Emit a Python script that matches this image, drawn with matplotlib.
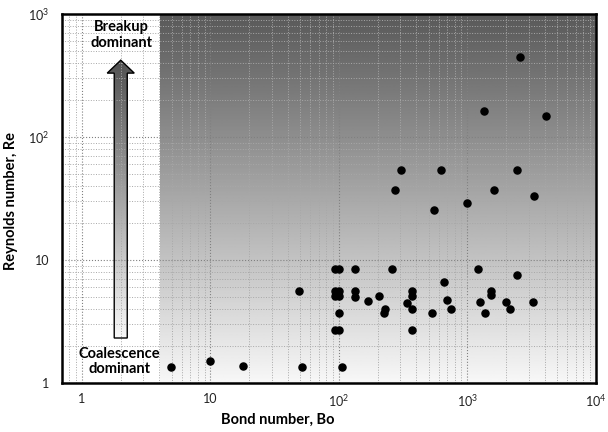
import numpy as np
import matplotlib
matplotlib.use("Agg")
import matplotlib.pyplot as plt
from matplotlib.patches import Polygon

plt.rcParams["font.family"] = ["Lato", "DejaVu Sans"]
plt.rcParams["mathtext.fontset"] = "custom"
plt.rcParams["mathtext.rm"] = "Lato"

# Bond number (x) and Reynolds number (y)
bond = [303, 618, 2430, 271, 1600, 3280, 1000, 552,
        94, 100, 133, 258, 1200, 2430, 663,
        49, 94, 100, 133, 94, 100, 133, 169, 204, 370, 370, 338,
        229, 224, 368, 100, 526, 697, 748, 1514, 1514, 1250, 1377,
        2006, 2155, 3235, 94, 100, 371,
        4.9, 10, 17.9, 52, 105,
        2560, 1337, 4130]
reynolds = [54, 54, 54, 37, 37, 33, 29, 25.6,
            8.45, 8.45, 8.45, 8.45, 8.45, 7.5, 6.6,
            5.6, 5.6, 5.6, 5.6, 5.1, 5.1, 5.0, 4.67, 5.1, 5.6, 5.1, 4.5,
            4.0, 3.7, 4.0, 3.7, 3.7, 4.7, 4.0, 5.6, 5.15, 4.6, 3.7,
            4.6, 4.0, 4.6, 2.7, 2.7, 2.7,
            1.35, 1.5, 1.38, 1.35, 1.35,
            444, 162, 147]

x_ticks = [1, 10, 100, 1000, 10000]
x_labels = ["1", "10", "10$^2$", "10$^3$", "10$^4$"]
y_ticks = [1, 10, 100, 1000]
y_labels = ["1", "10", "10$^2$", "10$^3$"]

fig = plt.figure(figsize=(6.08, 4.32), dpi=100)
ax = fig.add_axes([0.102, 0.1134, 0.878, 0.854])
ax.set_xscale("log")
ax.set_yscale("log")
ax.set_xlim(0.7, 1e4)
ax.set_ylim(1, 1000)

# background gradient (breakup region)
grad = np.linspace(0.97, 0.35, 256).reshape(-1, 1)
ax.imshow(grad, extent=[0.1835, 1, 0, 1], transform=ax.transAxes,
          cmap="gray", vmin=0, vmax=1, aspect="auto", origin="lower",
          zorder=0)

ax.grid(True, which="major", linestyle=":", color="#808080", linewidth=0.8, zorder=1)
ax.grid(True, which="minor", linestyle=":", color="#a8a8a8", linewidth=0.7, zorder=1)
ax.set_axisbelow(False)

ax.scatter(bond, reynolds, s=26, color="black", zorder=4)

# gradient arrow
cx, sw, hw = 0.110, 0.0122, 0.0253
y0, yb, yt = 0.122, 0.840, 0.875
arrow = Polygon([[cx - sw, y0], [cx + sw, y0], [cx + sw, yb], [cx + hw, yb],
                 [cx, yt], [cx - hw, yb], [cx - sw, yb]], closed=True,
                transform=ax.transAxes, facecolor="none", edgecolor="black",
                linewidth=1.0, zorder=3)
ax.add_patch(arrow)
agrad = np.linspace(0.97, 0.32, 256).reshape(-1, 1)
im = ax.imshow(agrad, extent=[cx - hw, cx + hw, y0, yt], transform=ax.transAxes,
               cmap="gray", vmin=0, vmax=1, aspect="auto", origin="lower",
               zorder=2.5)
im.set_clip_path(arrow)

ax.text(0.112, 0.943, "Breakup\ndominant", transform=ax.transAxes,
        ha="center", va="center", fontsize=10.5, fontweight="bold",
        linespacing=1.15, zorder=5)
ax.text(0.107, 0.058, "Coalescence\ndominant", transform=ax.transAxes,
        ha="center", va="center", fontsize=10.5, fontweight="bold",
        linespacing=1.15, zorder=5)

ax.set_xticks(x_ticks)
ax.set_xticklabels(x_labels)
ax.set_yticks(y_ticks)
ax.set_yticklabels(y_labels)
ax.tick_params(which="both", length=0, labelsize=9, colors="#222222")
ax.tick_params(axis="x", pad=7)
ax.tick_params(axis="y", pad=9)

ax.set_xlabel("Bond number, Bo", fontsize=10.5, fontweight="bold", va="center")
ax.set_ylabel("Reynolds number, Re", fontsize=10.5, fontweight="bold")
ax.xaxis.set_label_coords(0.405, -0.1)
ax.yaxis.set_label_coords(-0.082, 0.493)

for s in ax.spines.values():
    s.set_linewidth(1.8)
    s.set_color("black")
    s.set_zorder(6)

fig.savefig("out.png", dpi=100)
